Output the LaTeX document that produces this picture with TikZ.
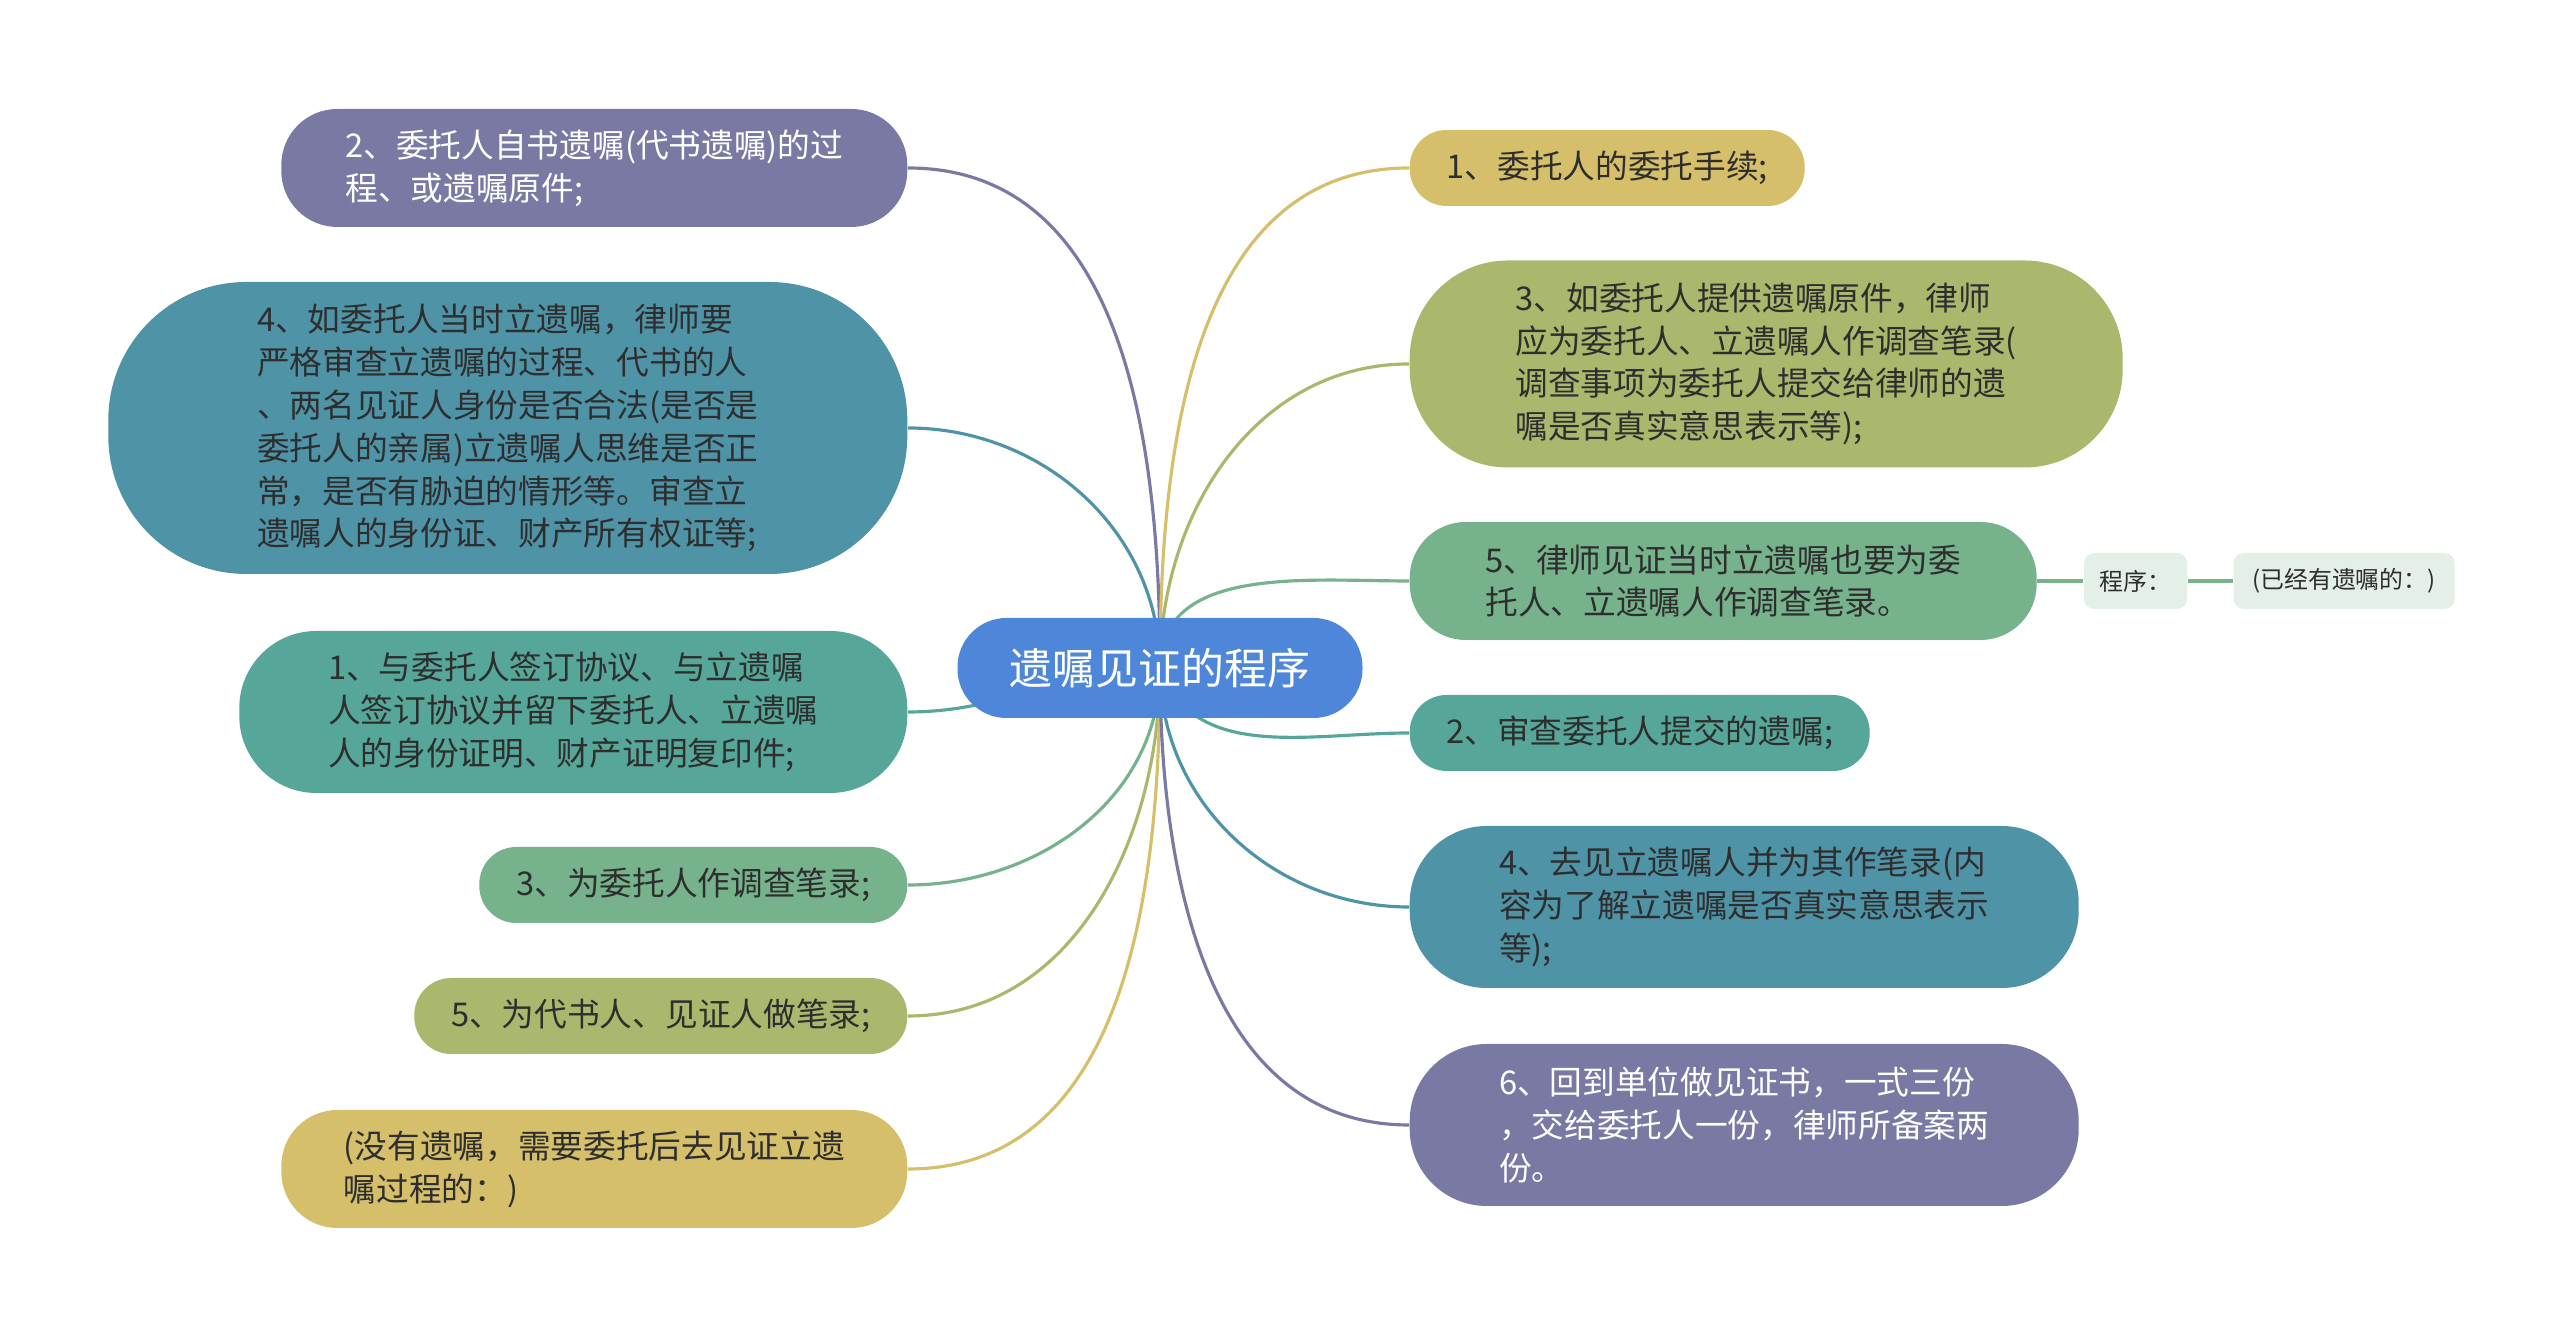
\documentclass[tikz,border=0pt]{standalone}
\usepackage{fontspec}
\setmainfont{Noto Sans CJK SC}
\usetikzlibrary{positioning,backgrounds}
\definecolor{mapblue}{HTML}{4E87D9}
\definecolor{mapviolet}{HTML}{7A79A4}
\definecolor{mapsteel}{HTML}{4F93A6}
\definecolor{mapteal}{HTML}{56A79A}
\definecolor{mapgreen}{HTML}{76B28B}
\definecolor{mapolive}{HTML}{A9B86D}
\definecolor{mapgold}{HTML}{D5BF6B}
\definecolor{mappale}{HTML}{E4EFE8}
\definecolor{ink}{HTML}{2E2E2E}

\begin{document}
\begin{tikzpicture}
	\tikzstyle{every node} = [rectangle, inner sep=0pt, align=left, text=ink, font=\fontsize{9.3}{12.2}\selectfont]
	\tikzstyle{link}  = [line width=0.9pt]
	\tikzstyle{one}   = [minimum height=0.76cm, rounded corners=0.37cm]
	\tikzstyle{two}   = [minimum height=1.18cm, rounded corners=0.56cm]
	\tikzstyle{three} = [minimum height=1.62cm, rounded corners=0.77cm]
	\tikzstyle{four}  = [minimum height=2.07cm, rounded corners=0.98cm]
	\tikzstyle{six}   = [minimum height=2.92cm, rounded corners=1.38cm]
	\useasboundingbox (0,0) rectangle (25.6,13.37);
	% centre
	\node (root) [fill=mapblue, text=white, minimum width=4.05cm, minimum height=1cm, rounded corners=0.49cm, font=\fontsize{12.2}{14}\selectfont] at (11.60,6.69) {遗嘱见证的程序};
	% left side
	\node (l1) [two, fill=mapviolet, text=white, minimum width=6.26cm, anchor=east] at (9.08,11.69) {2、委托人自书遗嘱(代书遗嘱)的过\\程、或遗嘱原件;};
	\node (l2) [six, fill=mapsteel, minimum width=7.99cm, anchor=east] at (9.08,9.09) {4、如委托人当时立遗嘱，律师要\\严格审查立遗嘱的过程、代书的人\\、两名见证人身份是否合法(是否是\\委托人的亲属)立遗嘱人思维是否正\\常，是否有胁迫的情形等。审查立\\遗嘱人的身份证、财产所有权证等;};
	\node (l3) [three, fill=mapteal, minimum width=6.68cm, anchor=east] at (9.08,6.25) {1、与委托人签订协议、与立遗嘱\\人签订协议并留下委托人、立遗嘱\\人的身份证明、财产证明复印件;};
	\node (l4) [one, fill=mapgreen, minimum width=4.28cm, anchor=east] at (9.08,4.52) {3、为委托人作调查笔录;};
	\node (l5) [one, fill=mapolive, minimum width=4.93cm, anchor=east] at (9.08,3.21) {5、为代书人、见证人做笔录;};
	\node (l6) [two, fill=mapgold, minimum width=6.26cm, anchor=east] at (9.08,1.68) {(没有遗嘱，需要委托后去见证立遗\\嘱过程的：)};
	% right side
	\node (r1) [one, fill=mapgold, minimum width=3.95cm, anchor=west] at (14.09,11.69) {1、委托人的委托手续;};
	\node (r2) [four, fill=mapolive, minimum width=7.13cm, anchor=west] at (14.09,9.73) {3、如委托人提供遗嘱原件，律师\\应为委托人、立遗嘱人作调查笔录(\\调查事项为委托人提交给律师的遗\\嘱是否真实意思表示等);};
	\node (r3) [two, fill=mapgreen, minimum width=6.27cm, anchor=west] at (14.09,7.56) {5、律师见证当时立遗嘱也要为委\\托人、立遗嘱人作调查笔录。};
	\node (r4) [one, fill=mapteal, minimum width=4.60cm, anchor=west] at (14.09,6.04) {2、审查委托人提交的遗嘱;};
	\node (r5) [three, fill=mapsteel, minimum width=6.69cm, anchor=west] at (14.09,4.30) {4、去见立遗嘱人并为其作笔录(内\\容为了解立遗嘱是否真实意思表示\\等);};
	\node (r6) [three, fill=mapviolet, text=white, minimum width=6.69cm, anchor=west] at (14.09,2.12) {6、回到单位做见证书，一式三份\\，交给委托人一份，律师所备案两\\份。};
	% sub-topics of r3
	\node (prog) [fill=mappale, minimum width=1.03cm, minimum height=0.56cm, rounded corners=0.1cm, font=\fontsize{6.8}{8}\selectfont, right=0.46cm of r3] {程序：};
	\node (haswill) [fill=mappale, minimum width=2.21cm, minimum height=0.56cm, rounded corners=0.1cm, font=\fontsize{6.8}{8}\selectfont, right=0.45cm of prog] {(已经有遗嘱的：)};
	\begin{pgfonlayer}{background}
	\draw [link, mapviolet] (root.center) to[out=90,in=0]   (l1.east);
	\draw [link, mapsteel]  (root.center) to[out=90,in=0]   (l2.east);
	\draw [link, mapteal]   (root.center) to[out=180,in=0]  (l3.east);
	\draw [link, mapgreen]  (root.center) to[out=-90,in=0]  (l4.east);
	\draw [link, mapolive]  (root.center) to[out=-90,in=0]  (l5.east);
	\draw [link, mapgold]   (root.center) to[out=-90,in=0]  (l6.east);
	\draw [link, mapgold]   (root.center) to[out=90,in=180] (r1.west);
	\draw [link, mapolive]  (root.center) to[out=90,in=180] (r2.west);
	\draw [link, mapgreen]  (root.center) to[out=90,in=180] (r3.west);
	\draw [link, mapteal]   (root.center) to[out=-70,in=180] (r4.west);
	\draw [link, mapsteel]  (root.center) to[out=-90,in=180] (r5.west);
	\draw [link, mapviolet] (root.center) to[out=-90,in=180] (r6.west);
	\draw [link, mapgreen, line width=1.2pt] (r3) -- (prog);
	\draw [link, mapgreen, line width=1.2pt] (prog) -- (haswill);
	\end{pgfonlayer}
\end{tikzpicture}
\end{document}
